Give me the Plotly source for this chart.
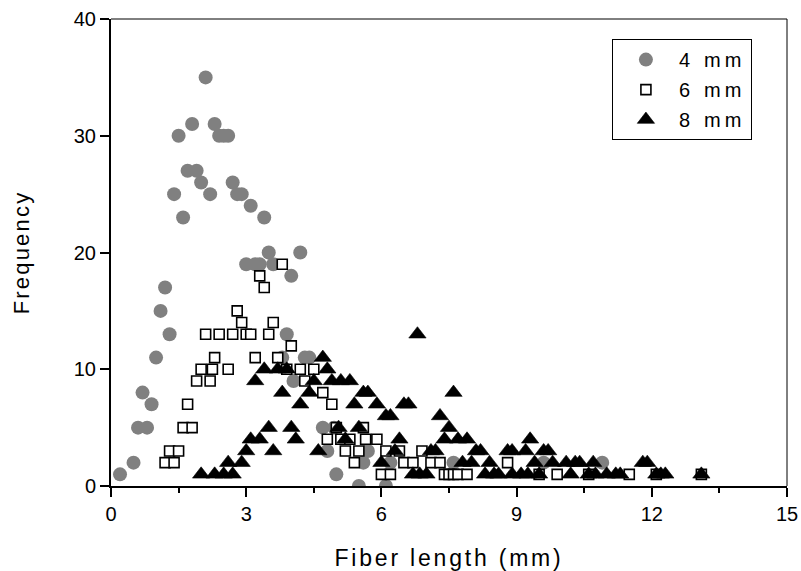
import plotly.graph_objects as go

# 4 mm fibres (grey circles)
x4 = [0.2, 0.5, 0.6, 0.7, 0.8, 0.9, 1.0, 1.1, 1.2, 1.3, 1.4, 1.5, 1.6, 1.7, 1.8, 1.9,
      2.0, 2.1, 2.2, 2.3, 2.4, 2.5, 2.6, 2.7, 2.8, 2.9, 3.0, 3.1, 3.2, 3.3, 3.4, 3.5,
      3.6, 3.8, 3.9, 4.0, 4.05, 4.2, 4.3, 4.4, 4.7, 4.8, 4.95, 5.0, 5.5, 5.6, 5.7,
      6.1, 6.2, 7.6, 9.6, 10.9]
y4 = [1, 2, 5, 8, 5, 7, 11, 15, 17, 13, 25, 30, 23, 27, 31, 27,
      26, 35, 25, 31, 30, 30, 30, 26, 25, 25, 19, 24, 19, 19, 23, 20,
      19, 11, 13, 18, 9, 20, 11, 11, 5, 3, 5, 1, 0, 2, 3,
      0, 2, 2, 2, 2]

# 6 mm fibres (open squares)
x6 = [1.2, 1.3, 1.4, 1.5, 1.6, 1.7, 1.8, 1.9, 2.0, 2.1, 2.2, 2.25, 2.3, 2.4, 2.6, 2.7,
      2.8, 2.9, 3.0, 3.1, 3.2, 3.3, 3.4, 3.5, 3.6, 3.7, 3.8, 3.9, 4.0, 4.2, 4.3, 4.5,
      4.7, 4.8, 4.9, 5.0, 5.1, 5.2, 5.3, 5.4, 5.5, 5.6, 5.65, 5.9, 6.0, 6.1, 6.2, 6.4,
      6.5, 6.7, 6.9, 7.1, 7.3, 7.4, 7.5, 7.6, 7.7, 7.9, 8.8, 9.5, 9.9, 10.6, 11.5,
      12.1, 13.1]
y6 = [2, 3, 2, 3, 5, 7, 5, 9, 10, 13, 9, 10, 11, 13, 10, 13,
      15, 14, 13, 13, 11, 18, 17, 13, 14, 11, 19, 10, 12, 10, 9, 10,
      8, 4, 7, 5, 4, 3, 4, 2, 3, 5, 4, 4, 1, 3, 1, 3,
      2, 2, 3, 2, 2, 1, 1, 1, 1, 1, 2, 1, 1, 1, 1,
      1, 1]

# 8 mm fibres (filled triangles)
x8 = [2.0, 2.3, 2.5, 2.6, 2.7, 2.9, 3.0, 3.1, 3.2, 3.3, 3.4, 3.5, 3.6, 3.7, 3.8, 3.9,
      4.0, 4.1, 4.2, 4.4, 4.5, 4.6, 4.7, 4.8, 4.9, 5.05, 5.1, 5.2, 5.3, 5.4, 5.5, 5.6,
      5.7, 5.9, 6.0, 6.1, 6.2, 6.3, 6.4, 6.5, 6.6, 6.7, 6.8, 6.85, 7.0, 7.1, 7.2, 7.3,
      7.4, 7.5, 7.6, 7.7, 7.8, 7.9, 8.0, 8.1, 8.2, 8.3, 8.4, 8.5, 8.6, 8.8, 8.9, 8.9,
      9.1, 9.2, 9.25, 9.3, 9.4, 9.5, 9.6, 9.7, 9.8, 10.1, 10.2, 10.3, 10.4, 10.6, 10.7,
      10.75, 11.0, 11.2, 11.3, 11.8, 11.9, 12.1, 12.2, 12.3, 13.1]
y8 = [1, 1, 1, 2, 1, 2, 3, 4, 9, 4, 10, 5, 3, 10, 8, 10,
      5, 4, 7, 8, 9, 3, 11, 10, 9, 5, 9, 4, 9, 7, 5, 8,
      8, 7, 2, 6, 6, 3, 4, 7, 7, 1, 13, 1, 1, 3, 3, 6,
      4, 5, 8, 4, 2, 4, 2, 3, 3, 1, 2, 1, 1, 3, 3, 1,
      1, 3, 1, 4, 2, 1, 3, 3, 2, 2, 1, 2, 2, 1, 2,
      1, 1, 1, 1, 2, 2, 1, 1, 1, 1]

x_ticks = [0, 3, 6, 9, 12, 15]
x_minor = [1.5, 4.5, 7.5, 10.5, 13.5]
y_ticks = [0, 10, 20, 30, 40]

FONT = "Liberation Sans, Arial, sans-serif"

fig = go.Figure()
fig.add_trace(go.Scatter(x=x4, y=y4, mode="markers", name="4 mm", legendgroup="a",
                         marker=dict(symbol="circle", size=14, color="#808080",
                                     line=dict(width=0))))
fig.add_trace(go.Scatter(x=x6, y=y6, mode="markers", name="6 mm", legendgroup="b",
                         marker=dict(symbol="square", size=10, color="white",
                                     line=dict(width=1.6, color="black"))))
fig.add_trace(go.Scatter(x=x8, y=y8, mode="markers", name="8 mm", legendgroup="c",
                         marker=dict(symbol="triangle-up", size=15, color="black",
                                     line=dict(width=0.6, color="black"))))

axis_common = dict(showgrid=False, zeroline=False, showline=True, linecolor="black",
                   linewidth=2, ticks="outside", ticklen=9, tickwidth=2,
                   tickcolor="black", automargin=False,
                   tickfont=dict(size=20, family=FONT, color="black"))

fig.update_xaxes(range=[0, 15], tickvals=x_ticks, **axis_common,
                 minor=dict(tickvals=x_minor, ticks="outside",
                            ticklen=5, tickwidth=2, tickcolor="black"),
                 title=dict(text="Fiber length (mm)", font=dict(size=23, family=FONT),
                            standoff=30))
fig.update_yaxes(range=[0, 40], tickvals=y_ticks, **axis_common,
                 title=dict(text="Frequency", font=dict(size=22, family=FONT),
                            standoff=38))

fig.update_layout(
    width=801, height=571,
    margin=dict(l=111, r=14, t=19, b=85),
    plot_bgcolor="white", paper_bgcolor="white",
    font=dict(family=FONT, size=20, color="black"),
    showlegend=True,
    legend=dict(x=0.741, y=0.957, xanchor="left", yanchor="top",
                bordercolor="black", borderwidth=1, bgcolor="white",
                font=dict(size=20, family=FONT), tracegroupgap=1,
                itemwidth=56),
    shapes=[
        dict(type="line", xref="paper", yref="paper", x0=0, x1=1, y0=1, y1=1,
             line=dict(color="black", width=1)),
        dict(type="line", xref="paper", yref="paper", x0=1, x1=1, y0=0, y1=1,
             line=dict(color="black", width=1)),
    ],
)

# the original typesetting uses widely spaced letters for titles and legend;
# re-plot with a slightly different font string so text is re-measured
post = """
var gd = document.getElementById('{plot_id}');
var st = document.createElement('style');
st.textContent = '.legendtext{letter-spacing:4.2px;} .xtitle{letter-spacing:2.8px;} .ytitle{letter-spacing:2.2px;}';
document.head.appendChild(st);
var lay = gd.layout;
lay.legend.font.family = 'Liberation Sans, Arial';
return Plotly.newPlot(gd, gd.data, lay);
"""

fig.write_html("out.html", post_script=post)
